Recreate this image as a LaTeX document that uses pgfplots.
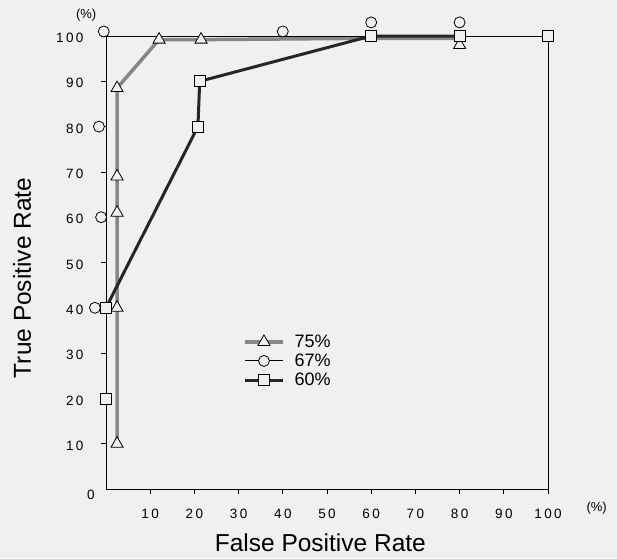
\documentclass[border=0pt]{standalone}
\usepackage{pgfplots}
\pgfplotsset{compat=1.18}
\usepackage{fontspec}
\setmainfont{Liberation Sans}
\newfontfamily\tickfont[LetterSpace=18]{Liberation Sans}
\definecolor{bg}{RGB}{240,240,238}
\definecolor{graybar}{RGB}{135,135,135}
\begin{document}
\begin{tikzpicture}
\fill[bg] (-106pt,-69pt) rectangle (511pt,489pt);
\begin{axis}[
  scale only axis, width=442pt, height=453pt,
  xmin=0, xmax=100, ymin=0, ymax=100,
  clip=false,
  axis line style={black, line width=0.8pt},
  xtick={10,20,...,100}, ytick={10,20,...,100},
  tick align=outside, major tick length=5pt,
  tick style={black, line width=0.8pt},
  tick pos=left,
  ticklabel style={font=\tickfont\fontsize{13.5}{15}\selectfont},
  /pgf/number format/assume math mode=true,
  xticklabel style={yshift=-12pt},
  yticklabel style={xshift=-14pt, yshift=-2pt},
  legend style={at={(axis cs:31,34.5)}, anchor=north west, draw=none, fill=none,
    font=\fontsize{18}{20}\selectfont, row sep=1pt, inner sep=0pt},
  legend cell align=left,
  legend image code/.code={\draw[mark repeat=2,mark phase=2,#1] plot coordinates {(0pt,0pt)(19pt,0pt)(38pt,0pt)}; \path (46pt,0pt);},
  every axis plot/.append style={mark options={draw=black, fill=bg, line width=0.8pt, solid}},
]
% legend images
\addlegendimage{graybar, line width=3.5pt, mark=triangle*, mark size=7pt}
\addlegendentry{75\%}
\addlegendimage{black, line width=0.9pt, mark=*, mark size=5.5pt}
\addlegendentry{67\%}
\addlegendimage{black!85, line width=3pt, mark=square*, mark size=5.5pt}
\addlegendentry{60\%}

% 75%
\addplot[forget plot, graybar, line width=3.5pt, mark=triangle*, mark size=7pt, mark indices={1,2,3,4,5,6,7}]
  coordinates {(2.5,10)(2.5,40)(2.5,61)(2.5,69)(2.5,88.5)(12,99.2)(21.5,99.2)(60,99.5)(80,99.5)};
\addplot[forget plot, only marks, mark=triangle*, mark size=7pt]
  coordinates {(80,98)};
% 67%
\addplot[forget plot, black, line width=0.9pt] coordinates {(0,40)(0,100)(100,100)};
\addplot[forget plot, only marks, mark=*, mark size=5.5pt]
  coordinates {(-2.5,40)(-1.1,60)(-1.6,80)(-0.5,101)(40,101)(60,103)(80,103)(100,100)};
% 60%
\addplot[forget plot, black!85, line width=3pt] coordinates {(0,40)(20.8,80)(21.2,90)(60,100)(80,100)};
\addplot[forget plot, only marks, mark=square*, mark size=5.5pt]
  coordinates {(0,20)(0,40)(20.8,80)(21.2,90)(60,100)(80,100)(100,100)};

\node[font=\tickfont\fontsize{13.5}{15}\selectfont] at (axis cs:-3.4,-1.2) {0};
\node[font=\fontsize{13}{15}\selectfont] at (axis cs:-4.5,104.5) {(\%)};
\node[font=\fontsize{13}{15}\selectfont] at (axis cs:111,-4.3) {(\%)};
\node[font=\fontsize{24.5}{27}\selectfont, inner sep=1pt] at (axis cs:48.5,-11.9) {False Positive Rate};
\node[font=\fontsize{24.5}{27}\selectfont, rotate=90] at (axis cs:-19,46.6) {True Positive Rate};
\end{axis}
\pgfresetboundingbox
\path[use as bounding box] (-106pt,-69pt) rectangle (511pt,489pt);
\end{tikzpicture}
\end{document}
